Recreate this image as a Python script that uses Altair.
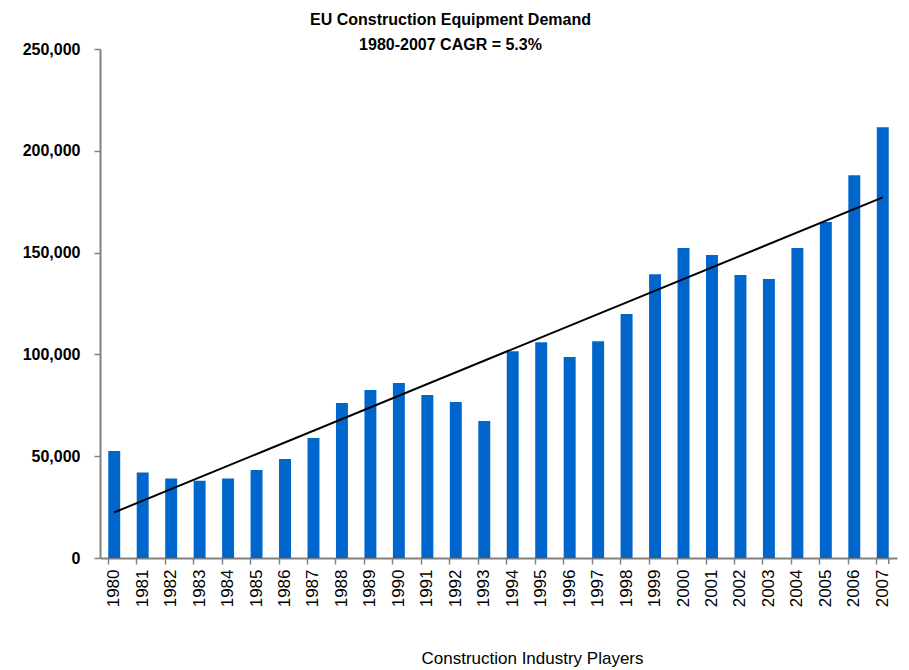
import altair as alt
import pandas as pd

years = [str(y) for y in range(1980, 2008)]
demand = [52500, 42000, 39000, 38000, 39000, 43200, 48600, 58900, 76100, 82500,
          85900, 80000, 76600, 67300, 101600, 106000, 98700, 106500, 119800, 139400,
          152200, 148800, 139000, 137000, 152200, 165000, 188000, 211600]
trend_years = ["1980", "2007"]
trend_values = [22400, 177100]

title_lines = ["EU Construction Equipment Demand", "1980-2007 CAGR = 5.3%"]
x_title = "Construction Industry Players"
y_ticks = [0, 50000, 100000, 150000, 200000, 250000]

BOLD = "Liberation Sans, Arial, sans-serif"
REG = "Liberation Sans, Arial, sans-serif"

df = pd.DataFrame({"year": years, "demand": demand})
tdf = pd.DataFrame({"year": trend_years, "trend": trend_values})

W, H = 797, 509

xenc = alt.X(
    "year:O",
    sort=years,
    scale=alt.Scale(domain=years, paddingInner=0.58, paddingOuter=0.29),
    axis=alt.Axis(
        title=x_title,
        titleFont=REG, titleFontSize=17, titleFontWeight="normal", titleColor="#000000",
        titleX=432, titleY=100, titleAnchor="middle", titleAlign="center", titleBaseline="middle",
        labelFont=REG, labelFontSize=17, labelColor="#000000", labelAngle=270,
        labelPadding=5, bandPosition=0,
        tickSize=6, tickColor="#808080", tickWidth=1.5,
        domainColor="#808080", domainWidth=2,
    ),
)

yscale = alt.Scale(domain=[0, 250000], nice=False, zero=True)
yaxis = alt.Axis(
    title=None, values=y_ticks, format=",.0f",
    labelFont=BOLD, labelFontSize=16, labelFontWeight="bold", labelColor="#000000",
    labelPadding=14, tickSize=6, tickColor="#808080", tickWidth=1.5,
    domainColor="#808080", domainWidth=2, grid=False,
)

bars = alt.Chart(df).mark_bar(color="#0066CC").encode(
    x=xenc,
    y=alt.Y("demand:Q", scale=yscale, axis=yaxis),
)

trend = alt.Chart(tdf).mark_line(color="#000000", strokeWidth=2).encode(
    x=alt.X("year:O", sort=years),
    y=alt.Y("trend:Q", scale=yscale),
)

end_tick = alt.Chart(pd.DataFrame({"year": ["2007"]})).mark_rule(color="#808080", strokeWidth=1.5).encode(
    x=alt.X("year:O", sort=years, bandPosition=1),
    y=alt.value(H),
    y2=alt.value(H + 6),
)

chart = alt.layer(bars, trend, end_tick).properties(
    width=W, height=H,
    title=alt.TitleParams(
        text=title_lines, font=BOLD, fontSize=16, fontWeight="bold", color="#000000",
        anchor="middle", frame="group", dx=-48, lineHeight=25, offset=-12,
    ),
    autosize=alt.AutoSizeParams(type="none"),
    padding={"left": 92, "top": 41, "right": 4, "bottom": 116},
).configure_view(stroke=None)

chart.save("out.html", embed_options={"renderer": "svg", "actions": False})
